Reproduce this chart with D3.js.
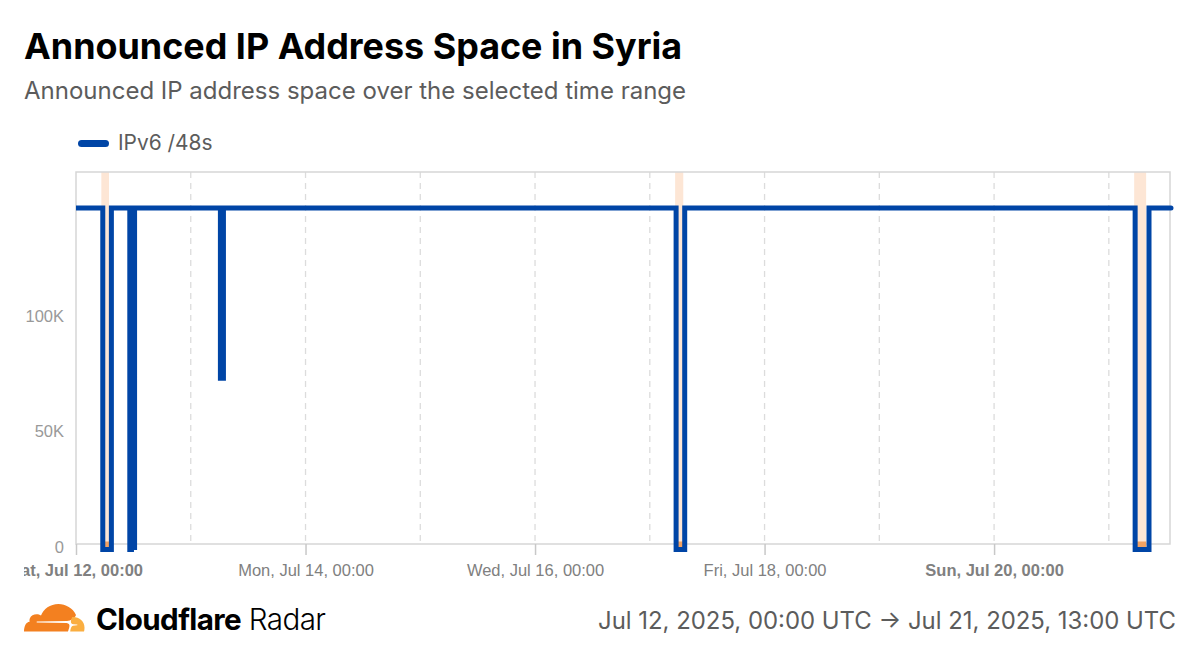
<!DOCTYPE html>
<html>
<head>
<meta charset="utf-8">
<script src="https://cdn.jsdelivr.net/npm/d3@7"></script>
<style>
  html, body { margin: 0; padding: 0; background: #fff; }
  svg { display: block; }
  text { font-family: Inter, sans-serif; }
  .tick-label { font-family: "Liberation Sans", Arial, sans-serif; }
</style>
</head>
<body>
<div id="chart"></div>
<script>
const titleText = 'Announced IP Address Space in Syria';
const subtitleText = 'Announced IP address space over the selected time range';
const legendLabel = 'IPv6 /48s';
const rangeText = 'Jul 12, 2025, 00:00 UTC \u2192 Jul 21, 2025, 13:00 UTC';

const sampleTimes = [
  '2025-07-12T00:00Z',
  '2025-07-12T05:36Z', '2025-07-12T05:36Z', '2025-07-12T07:24Z', '2025-07-12T07:24Z',
  '2025-07-12T11:15Z', '2025-07-12T11:15Z', '2025-07-12T11:36Z', '2025-07-12T11:45Z',
  '2025-07-12T11:54Z', '2025-07-12T12:15Z', '2025-07-12T12:15Z',
  '2025-07-13T06:12Z', '2025-07-13T06:12Z', '2025-07-13T06:50Z', '2025-07-13T06:50Z',
  '2025-07-17T05:30Z', '2025-07-17T05:30Z', '2025-07-17T07:18Z', '2025-07-17T07:18Z',
  '2025-07-21T05:30Z', '2025-07-21T05:30Z', '2025-07-21T08:24Z', '2025-07-21T08:24Z',
  '2025-07-21T13:00Z'
];
const announcedValues = [
  145500,
  145500, -2400, -2400, 145500,
  145500, -2400, -2400, 145500,
  -1500, -1500, 145500,
  145500, 71800, 71800, 145500,
  145500, -2400, -2400, 145500,
  145500, -2400, -2400, 145500,
  145500
];

// outage annotations
const outageStarts = ['2025-07-12T05:18Z', '2025-07-17T05:18Z', '2025-07-21T05:18Z'];
const outageEnds = ['2025-07-12T06:54Z', '2025-07-17T07:00Z', '2025-07-21T07:48Z'];

const gridDays = ['2025-07-13', '2025-07-14', '2025-07-15', '2025-07-16', '2025-07-17', '2025-07-18', '2025-07-19', '2025-07-20', '2025-07-21'];
const xTickDays = ['2025-07-12', '2025-07-14', '2025-07-16', '2025-07-18', '2025-07-20'];
const xTickLabels = ['Sat, Jul 12, 00:00', 'Mon, Jul 14, 00:00', 'Wed, Jul 16, 00:00', 'Fri, Jul 18, 00:00', 'Sun, Jul 20, 00:00'];
const boldTickLabels = ['Sat, Jul 12, 00:00', 'Sun, Jul 20, 00:00'];
const yTickValues = [0, 50000, 100000];
const yTickLabels = ['0', '50K', '100K'];

const width = 1200;
const height = 657;
const plot = { left: 76, right: 1170, top: 172, bottom: 544 };

const svg = d3.select('#chart')
  .append('svg')
  .attr('width', width)
  .attr('height', height);

const xScale = d3.scaleUtc()
  .domain([new Date('2025-07-12T00:00Z'), new Date('2025-07-21T13:00Z')])
  .range([plot.left, plot.right + 1]);

const yScale = d3.scaleLinear()
  .domain([0, 100000])
  .range([plot.bottom, 313]);

// Title block
svg.append('text').attr('x', 24).attr('y', 59)
  .attr('font-size', 35.9).attr('font-weight', 700).attr('fill', '#000')
  .text(titleText);
svg.append('text').attr('x', 24).attr('y', 99)
  .attr('font-size', 24).attr('fill', '#5c5c5c')
  .text(subtitleText);

// Legend
svg.append('line')
  .attr('x1', 81.5).attr('x2', 105.5).attr('y1', 143.5).attr('y2', 143.5)
  .attr('stroke', '#0045a6').attr('stroke-width', 7).attr('stroke-linecap', 'round');
svg.append('text').attr('x', 118).attr('y', 150)
  .attr('font-size', 20.9).attr('fill', '#5c5c5c')
  .text(legendLabel);

// Day gridlines
svg.append('g')
  .selectAll('line')
  .data(gridDays)
  .enter()
  .append('line')
  .attr('x1', d => xScale(new Date(d + 'T00:00Z')))
  .attr('x2', d => xScale(new Date(d + 'T00:00Z')))
  .attr('y1', plot.top)
  .attr('y2', plot.bottom)
  .attr('stroke', '#dcdcdc')
  .attr('stroke-width', 1.3)
  .attr('stroke-dasharray', '6 5');

// Outage bands sit behind the line
const outages = outageStarts.map((start, i) => ({ start: new Date(start), end: new Date(outageEnds[i]) }));
svg.append('g')
  .selectAll('rect')
  .data(outages)
  .enter()
  .append('rect')
  .attr('x', d => xScale(d.start))
  .attr('y', plot.top)
  .attr('width', d => xScale(d.end) - xScale(d.start))
  .attr('height', 376)
  .attr('fill', '#fde6d5');

// Plot frame
svg.append('rect')
  .attr('x', plot.left).attr('y', plot.top)
  .attr('width', plot.right - plot.left).attr('height', plot.bottom - plot.top)
  .attr('fill', 'none').attr('stroke', '#d6d6d6').attr('stroke-width', 1.5);

svg.append('g')
  .selectAll('rect')
  .data(outages)
  .enter()
  .append('rect')
  .attr('x', d => xScale(d.start))
  .attr('y', 541.5)
  .attr('width', d => xScale(d.end) - xScale(d.start))
  .attr('height', 7)
  .attr('fill', '#f2a263');

// X axis
const xAxis = d3.axisBottom(xScale)
  .tickValues(xTickDays.map(d => new Date(d + 'T00:00Z')))
  .tickFormat((d, i) => xTickLabels[i])
  .tickSize(11)
  .tickPadding(9);
const xAxisGroup = svg.append('g')
  .attr('transform', `translate(0, ${plot.bottom})`)
  .call(xAxis);
xAxisGroup.select('.domain').remove();
xAxisGroup.selectAll('line').attr('stroke', '#c8c8c8').attr('stroke-width', 1.5);
xAxisGroup.selectAll('text')
  .attr('class', 'tick-label')
  .attr('font-size', 16.5)
  .attr('fill', '#808080')
  .attr('font-weight', (d, i) => boldTickLabels.includes(xTickLabels[i]) ? 700 : 400);

// First label is cut off by the left edge of the chart area
const defs = svg.append('defs');
defs.append('clipPath').attr('id', 'label-clip')
  .append('rect').attr('x', 24).attr('y', 0).attr('width', width).attr('height', height);
xAxisGroup.attr('clip-path', 'url(#label-clip)');
defs.append('clipPath').attr('id', 'line-clip')
  .append('rect').attr('x', plot.left).attr('y', 0).attr('width', width).attr('height', height);

// Y axis
const yAxis = d3.axisLeft(yScale)
  .tickValues(yTickValues)
  .tickFormat((d, i) => yTickLabels[i])
  .tickSize(0)
  .tickPadding(12);
const yAxisGroup = svg.append('g')
  .attr('transform', `translate(${plot.left}, 3)`)
  .call(yAxis);
yAxisGroup.select('.domain').remove();
yAxisGroup.selectAll('text')
  .attr('class', 'tick-label')
  .attr('font-size', 16.5)
  .attr('fill', '#999');

// Series line
const line = d3.line()
  .x((d, i) => xScale(new Date(sampleTimes[i])))
  .y(d => yScale(d));
svg.append('path')
  .attr('d', line(announcedValues))
  .attr('clip-path', 'url(#line-clip)')
  .attr('fill', 'none')
  .attr('stroke', '#0045a6')
  .attr('stroke-width', 5)
  .attr('stroke-linecap', 'round')
  .attr('stroke-linejoin', 'miter');

// Footer logo
const logo = svg.append('g').attr('transform', 'translate(24, 603.5)');
logo.append('path')
  .attr('d', 'M44 28 L45.3 23.8 C46 21.2 45 19.8 42.5 19.5 L13 19 C12.4 19 12.4 18.3 13 18.1 L43 17.6 C47 17.4 50.8 14.7 52 11.6 C49 4.5 41.5 0.5 34.5 0.5 C26 0.5 19.5 5.5 17 12 C14.5 10.3 11 10.3 8.5 11.8 C6 13.3 5 16 5.6 18.2 C2 18.4 0 23 0 28 Z')
  .attr('fill', '#f38020');
logo.append('path')
  .attr('d', 'M49 13.5 C48.7 13.5 48.4 13.5 48.1 13.6 L47 17 C46.5 19.5 47.5 20.5 49.5 20.8 L53 21 C53.5 21 53.5 21.7 53 21.8 L49 22.2 C47.5 22.4 46.5 24.5 46.2 28 L60 28 C60.5 26.5 60.5 25 60.5 24 C60.5 18 55.5 13.5 49 13.5 Z')
  .attr('fill', '#faae40');

svg.append('text').attr('x', 96).attr('y', 630)
  .attr('font-size', 29.6).attr('letter-spacing', -0.6)
  .selectAll('tspan')
  .data([['Cloudflare', 700], [' Radar', 300]])
  .enter()
  .append('tspan')
  .attr('font-weight', d => d[1])
  .attr('fill', '#000')
  .text(d => d[0]);

svg.append('text').attr('x', 1176).attr('y', 629)
  .attr('text-anchor', 'end')
  .attr('font-size', 23.9).attr('fill', '#5c5c5c')
  .text(rangeText);
</script>
</body>
</html>
